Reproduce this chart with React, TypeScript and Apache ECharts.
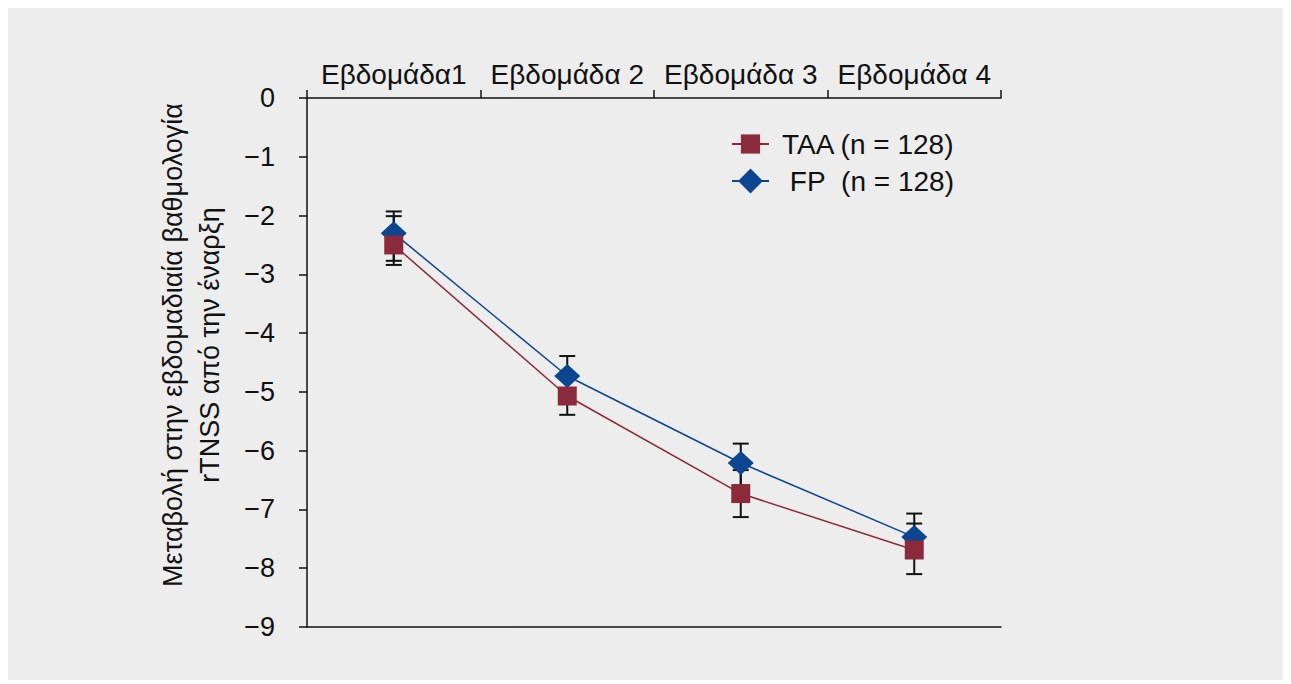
import React, { useEffect, useRef } from "react";
import * as echarts from "echarts";

const categories = ["Εβδομάδα1", "Εβδομάδα 2", "Εβδομάδα 3", "Εβδομάδα 4"];
const taaValues = [-2.5, -5.07, -6.73, -7.69];
const taaHigh = [-2.01, -4.75, -6.33, -7.24];
const taaLow = [-2.84, -5.39, -7.13, -8.1];
const fpValues = [-2.3, -4.73, -6.21, -7.47];
const fpHigh = [-1.93, -4.39, -5.88, -7.07];
const fpLow = [-2.77, -5.05, -6.65, -7.8];
const legendLabels: Record<string, string> = {
  TAA: "TAA (n = 128)",
  FP: "\u00a0FP\u00a0\u00a0(n = 128)",
};
const yAxisTitle = "Μεταβολή στην εβδομαδιαία βαθμολογία\nrTNSS από την έναρξη";

const FONT = "'Liberation Sans', Arial, Helvetica, sans-serif";
const RED = "#8a2a3b";
const BLUE = "#0c4590";

function errorSeries(low: number[], high: number[], z: number) {
  return {
    type: "custom",
    xAxisIndex: 0,
    z,
    silent: true,
    encode: { x: 0, y: [1, 2] },
    data: low.map((l, i) => [i, l, high[i]]),
    renderItem: (params: any, api: any) => {
      const i = api.value(0);
      const lo = api.coord([i, api.value(1)]);
      const hi = api.coord([i, api.value(2)]);
      const hw = 8;
      const style = { stroke: "#111", lineWidth: 2 };
      return {
        type: "group",
        children: [
          { type: "line", shape: { x1: lo[0], y1: lo[1], x2: hi[0], y2: hi[1] }, style },
          { type: "line", shape: { x1: lo[0] - hw, y1: lo[1], x2: lo[0] + hw, y2: lo[1] }, style },
          { type: "line", shape: { x1: hi[0] - hw, y1: hi[1], x2: hi[0] + hw, y2: hi[1] }, style },
        ],
      };
    },
  };
}

function legendFor(name: string, top: number, itemHeight: number) {
  return {
    left: 718,
    top,
    orient: "vertical",
    itemWidth: 37,
    itemHeight,
    data: [name],
    formatter: (n: string) => legendLabels[n],
    textStyle: { fontSize: 28, color: "#111", fontFamily: FONT, padding: [0, 0, 0, 8] },
  };
}

export default function App() {
  const ref = useRef<HTMLDivElement>(null);
  useEffect(() => {
    if (!ref.current) return;
    const chart = echarts.init(ref.current, undefined, { renderer: "svg" });
    chart.setOption({
      animation: false,
      backgroundColor: "#ededed",
      textStyle: { fontFamily: FONT },
      grid: { left: 299, top: 90, right: 288, bottom: 53, containLabel: false },
      legend: [legendFor("TAA", 117, 24), legendFor("FP", 154, 31)],
      xAxis: [
        {
          type: "category",
          position: "top",
          data: categories,
          boundaryGap: true,
          axisLine: { show: true, lineStyle: { color: "#111", width: 1.5 } },
          axisTick: { show: true, length: 8, lineStyle: { color: "#111", width: 1.5 } },
          axisLabel: { color: "#111", fontSize: 28, margin: 10, interval: 0, hideOverlap: false, fontFamily: FONT },
        },
        {
          type: "category",
          position: "bottom",
          data: categories,
          axisLine: { show: true, lineStyle: { color: "#111", width: 1.5 } },
          axisTick: { show: false },
          axisLabel: { show: false },
        },
      ],
      yAxis: {
        type: "value",
        min: -9,
        max: 0,
        interval: 1,
        splitLine: { show: false },
        axisLine: { show: true, lineStyle: { color: "#111", width: 1.5 } },
        axisTick: { show: true, length: 8, lineStyle: { color: "#111", width: 1.5 } },
        axisLabel: {
          color: "#111",
          fontSize: 27,
          margin: 32,
          fontFamily: FONT,
          formatter: (v: number) => (v === 0 ? "0" : "\u2212" + Math.abs(v)),
        },
      },
      graphic: [
        {
          type: "text",
          x: 183,
          y: 337,
          rotation: Math.PI / 2,
          style: {
            text: yAxisTitle,
            fontSize: 27,
            fontFamily: FONT,
            fill: "#111",
            align: "center",
            verticalAlign: "middle",
            lineHeight: 37,
          },
        },
      ],
      series: [
        errorSeries(fpLow, fpHigh, 1),
        errorSeries(taaLow, taaHigh, 1),
        {
          name: "FP",
          type: "line",
          xAxisIndex: 0,
          data: fpValues,
          symbol: "diamond",
          symbolSize: [26, 24],
          z: 3,
          itemStyle: { color: BLUE },
          lineStyle: { color: BLUE, width: 1.5 },
        },
        {
          name: "TAA",
          type: "line",
          xAxisIndex: 0,
          data: taaValues,
          symbol: "rect",
          symbolSize: 19,
          z: 4,
          itemStyle: { color: RED },
          lineStyle: { color: RED, width: 1.5 },
        },
      ],
    });
    return () => chart.dispose();
  }, []);
  return <div ref={ref} style={{ width: 1281, height: 672 }} />;
}
